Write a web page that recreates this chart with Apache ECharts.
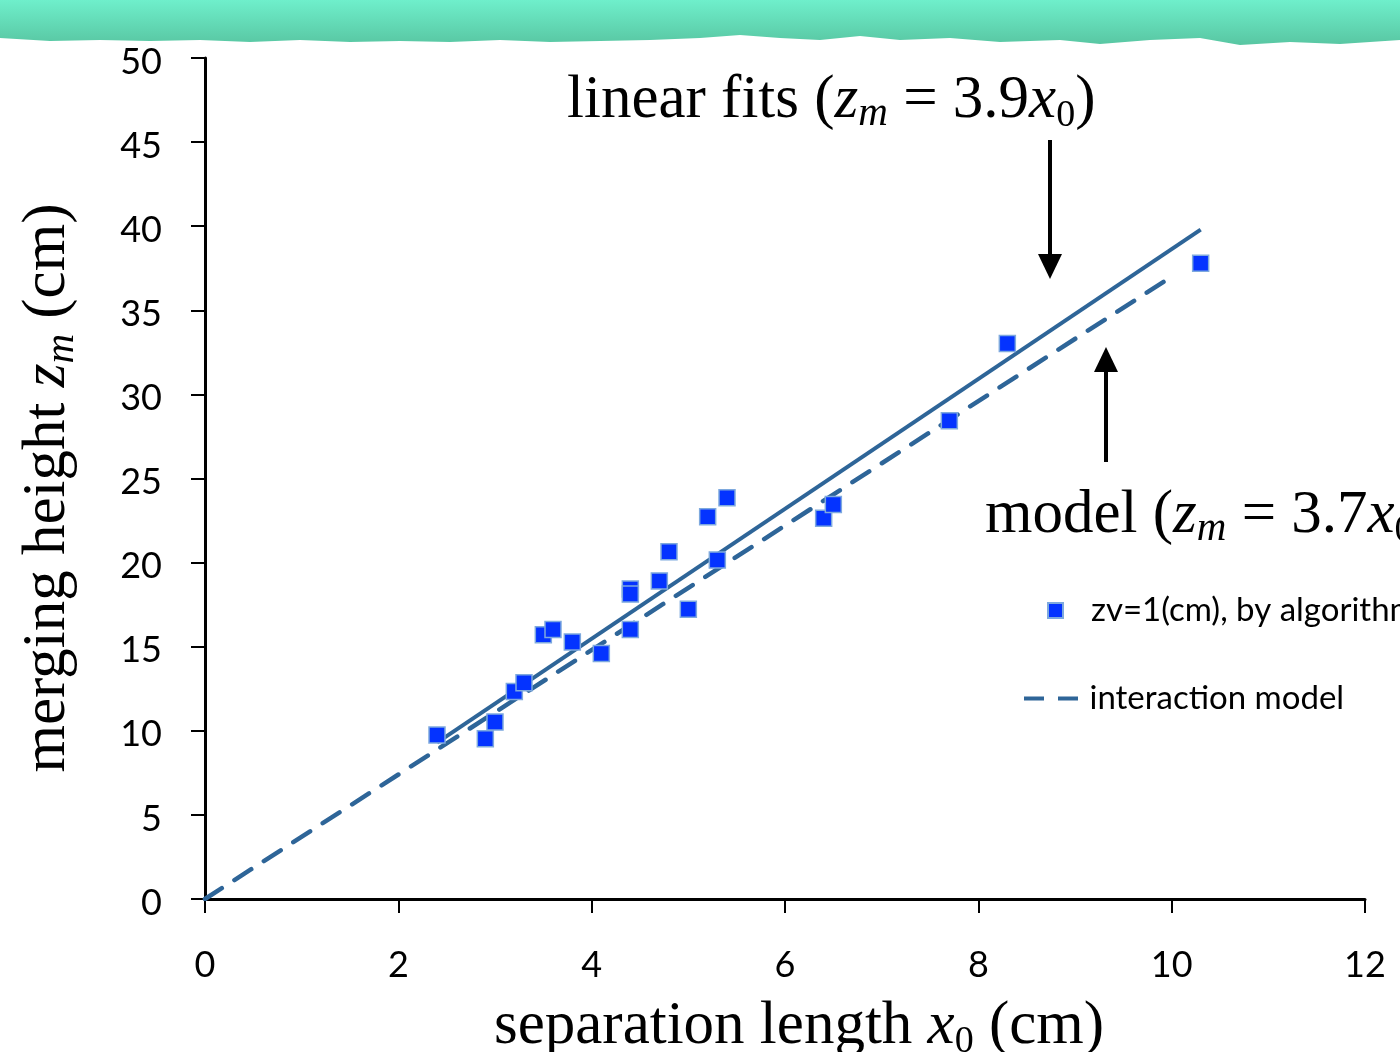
<!DOCTYPE html>
<html><head><meta charset="utf-8">
<script src="https://cdn.jsdelivr.net/npm/echarts@6/dist/echarts.min.js"></script>
<style>html,body{margin:0;padding:0;background:#fff}#c{width:1400px;height:1052px}</style>
</head><body><div id="c"></div>
<script>
const xTicks = [0, 2, 4, 6, 8, 10, 12];
const yTicks = [0, 5, 10, 15, 20, 25, 30, 35, 40, 45, 50];
const pointX = [2.4, 2.9, 3.0, 3.2, 3.3, 3.5, 3.6, 3.8, 4.1, 4.4, 4.4, 4.4, 4.7, 4.8, 5.0, 5.2, 5.3, 5.4, 6.4, 6.5, 7.7, 8.3, 10.3];
const pointY = [9.75, 9.53, 10.52, 12.34, 12.86, 15.71, 16.03, 15.28, 14.60, 18.43, 18.13, 16.03, 18.91, 20.65, 17.22, 22.73, 20.15, 23.86, 22.63, 23.46, 28.44, 33.03, 37.79];
const fitX = [2.4, 10.3];
const fitY = [9.3, 39.8];
const modelX = [0, 10];
const modelY = [0, 37];
const seriesNames = ['zv=1(cm), by algorithm', 'interaction model', 'linear fits'];

const zip = (a, b) => a.map((v, i) => [v, b[i]]);
const lineColor = '#2E6598';
const serif = '"Liberation Serif","DejaVu Serif",serif';
const sans = 'Lato,"Open Sans","Noto Sans",sans-serif';

// ragged banner edge (decoration)
const edge = [[1400,40],[1340,44],[1290,42],[1240,45],[1200,38],[1150,40],[1100,44],[1060,40],[1000,42],[950,38],[900,40],[860,36],[820,40],[780,38],[740,35],[700,38],[650,40],[600,41],[550,42],[500,40],[450,42],[400,41],[350,42],[300,40],[250,42],[200,40],[150,41],[100,40],[50,41],[0,38]];
const bannerPts = [[0,0],[1400,0]].concat(edge);

const richMath = (size) => ({
  i: {fontFamily: serif, fontSize: size, fontStyle: 'italic'},
  s: {fontFamily: serif, fontSize: Math.round(size * 0.68), fontStyle: 'italic', verticalAlign: 'bottom', padding: [0, 0, -4, 0]},
  s2: {fontFamily: serif, fontSize: Math.round(size * 0.62), verticalAlign: 'bottom', padding: [0, 0, -4, 0]}
});

const chart = echarts.init(document.getElementById('c'), null, {renderer: 'canvas'});
chart.setOption({
  animation: false,
  backgroundColor: '#fff',
  grid: {left: 205, right: 35, top: 58, bottom: 153},
  xAxis: {
    type: 'value', min: 0, max: 12, interval: 2,
    axisLine: {onZero: false, lineStyle: {color: '#000', width: 3}},
    axisTick: {show: true, length: 14, lineStyle: {color: '#000', width: 2}},
    axisLabel: {fontFamily: sans, fontSize: 36, color: '#000', margin: 48},
    splitLine: {show: false}
  },
  yAxis: {
    type: 'value', min: 0, max: 50, interval: 5,
    axisLine: {show: true, onZero: false, lineStyle: {color: '#000', width: 3}},
    axisTick: {show: true, length: 14, lineStyle: {color: '#000', width: 2}},
    axisLabel: {fontFamily: sans, fontSize: 36, color: '#000', margin: 43,
      formatter: '{a|{value}}', rich: {a: {fontFamily: sans, fontSize: 36, color: '#000', padding: [8, 0, 0, 0]}}},
    splitLine: {show: false}
  },
  legend: [
    {data: [seriesNames[0]], left: 1047, top: 594, padding: 0, orient: 'vertical', itemWidth: 15, itemHeight: 15,
     textStyle: {fontFamily: sans, fontSize: 33, color: '#000', padding: [0, 0, 0, 23]}},
    {data: [{name: seriesNames[1], icon: 'path://M0,0L20,0L20,4L0,4ZM34,0L54,0L54,4L34,4Z'}],
     left: 1024, top: 682, padding: 0, orient: 'vertical', itemWidth: 55, itemHeight: 4,
     itemStyle: {color: lineColor},
     textStyle: {fontFamily: sans, fontSize: 33, color: '#000', padding: [0, 0, 0, 6]}}
  ],
  series: [
    {name: seriesNames[0], type: 'scatter', symbol: 'rect', symbolSize: 16, z: 5,
     itemStyle: {color: '#0433FF', borderColor: '#7EA9DE', borderWidth: 1.5, opacity: 1},
     data: zip(pointX, pointY)},
    {name: seriesNames[1], type: 'line', symbol: 'none', z: 3,
     itemStyle: {color: lineColor},
     lineStyle: {color: lineColor, width: 4.5, type: [20, 15], cap: 'round'},
     data: zip(modelX, modelY)},
    {name: seriesNames[2], type: 'line', symbol: 'none', z: 4,
     lineStyle: {color: lineColor, width: 4},
     data: zip(fitX, fitY)}
  ],
  graphic: [
    {type: 'polygon', z: 100, shape: {points: bannerPts},
     style: {fill: new echarts.graphic.LinearGradient(0, 0, 0, 1, [{offset: 0, color: '#6FEFCB'}, {offset: 1, color: '#58C6A2'}])}},
    {type: 'text', left: 567, top: 70, z: 50,
     style: {text: 'linear fits ({i|z}{s|m} = 3.9{i|x}{s2|0})', font: '61px ' + serif, fill: '#000', rich: richMath(61)}},
    {type: 'text', left: 985, top: 485, z: 50,
     style: {text: 'model ({i|z}{s|m} = 3.7{i|x}{s2|0})', font: '61px ' + serif, fill: '#000', rich: richMath(61)}},
    {type: 'line', z: 50, shape: {x1: 1050, y1: 140, x2: 1050, y2: 258}, style: {stroke: '#000', lineWidth: 4}},
    {type: 'polygon', z: 50, shape: {points: [[1038, 254], [1062, 254], [1050, 279]]}, style: {fill: '#000'}},
    {type: 'line', z: 50, shape: {x1: 1106, y1: 462, x2: 1106, y2: 368}, style: {stroke: '#000', lineWidth: 4}},
    {type: 'polygon', z: 50, shape: {points: [[1094, 372], [1118, 372], [1106, 347]]}, style: {fill: '#000'}},
    {type: 'text', x: 48, y: 488, rotation: Math.PI / 2, z: 50,
     style: {text: 'merging height {i|z}{s|m} (cm)', font: '61px ' + serif, fill: '#000', align: 'center', verticalAlign: 'middle', rich: richMath(61)}},
    {type: 'text', x: 799, y: 1027, z: 50,
     style: {text: 'separation length {i|x}{s2|0} (cm)', font: '61px ' + serif, fill: '#000', align: 'center', verticalAlign: 'middle', rich: richMath(61)}}
  ]
});
</script></body></html>
